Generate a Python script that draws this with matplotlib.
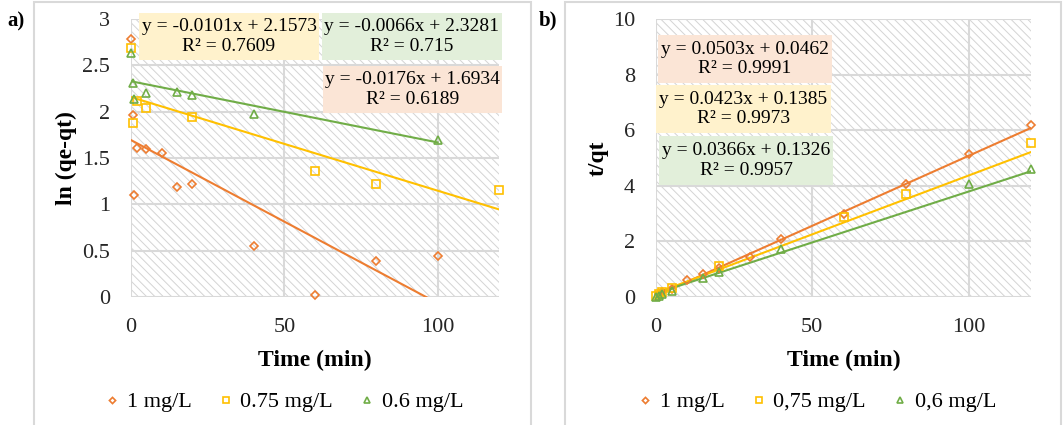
#import libraries
import numpy as np
import matplotlib.pyplot as plt
from matplotlib.patches import Rectangle
from matplotlib.ticker import FuncFormatter

plt.rcParams['font.family'] = ['Liberation Serif', 'DejaVu Serif']
plt.rcParams['hatch.linewidth'] = 0.7

# series colours and labels
colors = ['#ed7d31', '#ffc000', '#70ad47']
markers = ['D', 's', '^']
labels_a = ['1 mg/L', '0.75 mg/L', '0.6 mg/L']
labels_b = ['1 mg/L', '0,75 mg/L', '0,6 mg/L']

# panel a) pseudo first order : ln(qe-qt) vs time
orange_a_t = [0, 0.5, 1, 2, 5, 10, 15, 20, 40, 60, 80, 100]
orange_a_y = [2.78, 1.96, 1.10, 1.61, 1.60, 1.55, 1.19, 1.22, 0.55, 0.02, 0.39, 0.44]
yellow_a_t = [0, 0.5, 2, 5, 20, 60, 80, 120]
yellow_a_y = [2.69, 1.88, 2.11, 2.04, 1.94, 1.36, 1.22, 1.16]
green_a_t = [0, 0.5, 1, 5, 15, 20, 40, 100]
green_a_y = [2.63, 2.31, 2.14, 2.20, 2.21, 2.18, 1.98, 1.69]
slopes_a = [-0.0176, -0.0101, -0.0066]
intercepts_a = [1.6934, 2.1573, 2.3281]
r2_a = ['0.6189', '0.7609', '0.715']
eq_a = ['y = -0.0176x + 1.6934', 'y = -0.0101x + 2.1573', 'y = -0.0066x + 2.3281']

# panel b) pseudo second order : t/qt vs time
orange_b_t = [1, 2, 5, 10, 15, 20, 30, 40, 60, 80, 100, 120]
orange_b_y = [0.10, 0.17, 0.30, 0.60, 0.82, 1.05, 1.44, 2.08, 3.00, 4.08, 5.13, 6.17]
yellow_b_t = [0, 1, 2, 5, 20, 60, 80, 120]
yellow_b_y = [0.05, 0.12, 0.18, 0.32, 1.12, 2.86, 3.72, 5.55]
green_b_t = [0, 1, 2, 5, 15, 20, 40, 100, 120]
green_b_y = [0.00, 0.04, 0.10, 0.22, 0.68, 0.90, 1.74, 4.08, 4.62]
slopes_b = [0.0503, 0.0423, 0.0366]
intercepts_b = [0.0462, 0.1385, 0.1326]
r2_b = ['0.9991', '0.9973', '0.9957']
eq_b = ['y = 0.0503x + 0.0462', 'y = 0.0423x + 0.1385', 'y = 0.0366x + 0.1326']

box_colors = ['#fbe5d6', '#fff2cc', '#e2efda']

W, H = 1063, 425
fig = plt.figure(figsize=(W / 100, H / 100), dpi=100)


def fig_rect(x0, y0, x1, y1):
    # pixel box (top-left origin) -> figure fraction rect
    return [x0 / W, 1 - y1 / H, (x1 - x0) / W, (y1 - y0) / H]


def draw_panel(rect, ts, ys, slopes, intercepts, ylim, yticks, ylabel, ylabel_x, labels):
    ax = fig.add_axes(rect)
    ax.set_xlim(0, 120)
    ax.set_ylim(*ylim)
    # hatched plot area
    ax.add_patch(Rectangle((0, 0), 1, 1, transform=ax.transAxes, facecolor='white',
                           edgecolor='#d4d4d4', hatch='\\\\\\\\', lw=0, zorder=0))
    ax.set_xticks([0, 50, 100])
    ax.set_yticks(yticks)
    ax.yaxis.set_major_formatter(FuncFormatter(lambda v, p: '{:g}'.format(v)))
    ax.grid(True, color='#d9d9d9', lw=1.5, zorder=1)
    ax.set_axisbelow(True)
    for s in ax.spines.values():
        s.set_visible(False)
    ax.tick_params(length=0, labelsize=16, labelcolor='#262626', pad=15)
    for i in range(3):
        ax.plot(ts[i], ys[i], linestyle='none', marker=markers[i],
                ms=4.5 if markers[i] == 'D' else 6, mfc='none', mec=colors[i], mew=1.2,
                clip_on=False, zorder=4, label=labels[i])
        xf = np.array([min(ts[i]), max(ts[i])])
        ax.plot(xf, slopes[i] * xf + intercepts[i], color=colors[i], lw=1.5, zorder=3)
    ax.set_xlabel('Time (min)', fontsize=17, fontweight='bold')
    ax.xaxis.set_label_coords(0.5, -0.19)
    ax.set_ylabel(ylabel, fontsize=17, fontweight='bold')
    ax.yaxis.set_label_coords(ylabel_x, 0.5)
    return ax


def eq_box(x0, y0, x1, y1, color, eq, r2):
    fig.patches.append(Rectangle((x0 / W, 1 - y1 / H), (x1 - x0) / W, (y1 - y0) / H,
                                 transform=fig.transFigure, facecolor=color, edgecolor='none',
                                 zorder=5))
    fig.text((x0 + x1) / 2 / W, 1 - (y0 + y1) / 2 / H, eq + '\nR² = ' + r2,
             ha='center', va='center', fontsize=14, linespacing=1.2, zorder=6)


# panel frames
for x0, x1 in [(34, 531), (565, 1061)]:
    fig.patches.append(Rectangle((x0 / W, -0.1), (x1 - x0) / W, 1.1 - 2 / H,
                                 transform=fig.transFigure, facecolor='none',
                                 edgecolor='#d9d9d9', lw=1.5))

ax1 = draw_panel(fig_rect(131, 19, 499, 297),
                 [orange_a_t, yellow_a_t, green_a_t], [orange_a_y, yellow_a_y, green_a_y],
                 slopes_a, intercepts_a, (0, 3), [0, 0.5, 1, 1.5, 2, 2.5, 3],
                 'ln (qe-qt)', -0.147, labels_a)
ax2 = draw_panel(fig_rect(656, 19, 1031, 297),
                 [orange_b_t, yellow_b_t, green_b_t], [orange_b_y, yellow_b_y, green_b_y],
                 slopes_b, intercepts_b, (0, 10), [0, 2, 4, 6, 8, 10],
                 't/qt', -0.125, labels_b)

# equation labels
eq_box(139, 13, 319, 60, box_colors[1], eq_a[1], r2_a[1])
eq_box(322, 13, 502, 60, box_colors[2], eq_a[2], r2_a[2])
eq_box(323, 66, 502, 113, box_colors[0], eq_a[0], r2_a[0])
eq_box(658, 35, 832, 83, box_colors[0], eq_b[0], r2_b[0])
eq_box(656, 85, 831, 133, box_colors[1], eq_b[1], r2_b[1])
eq_box(659, 136, 833, 185, box_colors[2], eq_b[2], r2_b[2])

# legends below each panel
for ax, cx in [(ax1, 285), (ax2, 818)]:
    h, l = ax.get_legend_handles_labels()
    fig.legend(h, l, loc='center', bbox_to_anchor=(cx / W, 1 - 402 / H), ncol=3,
               frameon=False, fontsize=16, markerscale=0.7, handlelength=0.5,
               handletextpad=0.4, columnspacing=1.3)

fig.text(16 / W, 1 - 21 / H, 'a)', fontsize=15, fontweight='bold', ha='center', va='center')
fig.text(548 / W, 1 - 20 / H, 'b)', fontsize=15, fontweight='bold', ha='center', va='center')

plt.savefig('out.png', dpi=100)
